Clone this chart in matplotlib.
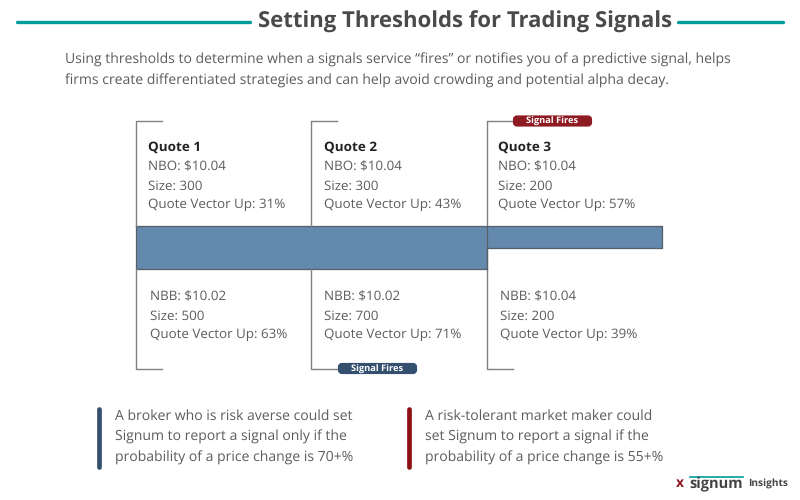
import matplotlib.pyplot as plt
from matplotlib.patches import FancyBboxPatch, Rectangle

plt.rcParams['font.family'] = ['Open Sans', 'DejaVu Sans']
plt.rcParams['text.hinting'] = 'none'

title = 'Setting Thresholds for Trading Signals'
intro = ['Using thresholds to determine when a signals service \u201cfires\u201d or notifies you of a predictive signal, helps',
         'firms create differentiated strategies and can help avoid crowding and potential alpha decay.']

quote_names = ['Quote 1', 'Quote 2', 'Quote 3']
nbo = ['$10.04', '$10.04', '$10.04']
offer_size = [300, 300, 200]
offer_up = [31, 43, 57]
nbb = ['$10.02', '$10.02', '$10.04']
bid_size = [500, 700, 200]
bid_up = [63, 71, 39]

# quote bars, read in pixels off the picture
bar_left = [136, 311, 487]
bar_right = [311, 487, 662]
bar_bottom = [269, 269, 248]

notes = [['A broker who is risk averse could set',
          'Signum to report a signal only if the',
          'probability of a price change is 70+%'],
         ['A risk-tolerant market maker could',
          'set Signum to report a signal if the',
          'probability of a price change is 55+%']]

TEAL = '#009c9c'
DARK = '#4a4a4a'
TEXT = '#5c5c5c'
BLUE = '#6389ad'
NAVY = '#34506e'
RED = '#8e1b22'
GREY = '#808080'

fig = plt.figure(figsize=(8, 5), dpi=100)
ax = fig.add_axes([0, 0, 1, 1])
ax.set_xlim(0, 800)
ax.set_ylim(500, 0)
ax.axis('off')

# header
ax.plot([17, 250], [22, 22], color=TEAL, lw=2.4, solid_capstyle='round')
ax.plot([678, 783], [22, 22], color=TEAL, lw=2.4, solid_capstyle='round')
ax.text(465, 21.5, title, ha='center', va='center', fontsize=15.9, fontweight='bold', color=DARK)
for i, line in enumerate(intro):
    ax.text(65, 59.5 + i * 21.5, line, va='center', fontsize=10.08, color=TEXT)

# bars
for l, r, b in zip(bar_left, bar_right, bar_bottom):
    ax.add_patch(Rectangle((l, 226), r - l, b - 226, facecolor=BLUE, edgecolor='none', zorder=2))
ax.plot([136, 662, 662, 487, 487, 136, 136], [226, 226, 248, 248, 269, 269, 226], color='#555f68', lw=0.9, zorder=3)

# quote brackets and labels
for i, x in enumerate(bar_left):
    ax.plot([x + 26, x, x], [121, 121, 226], color=GREY, lw=1, zorder=4)
    ax.plot([x, x, x + 26], [269, 369, 369], color=GREY, lw=1, zorder=4)
    tx = [148, 324.5, 498][i]
    ax.text(tx, 147.5, quote_names[i], va='center', fontsize=9.7, fontweight='bold', color='#222222')
    ax.text(tx, 167, f'NBO: {nbo[i]}', va='center', fontsize=9.65, color=TEXT)
    ax.text(tx, 186, f'Size: {offer_size[i]}', va='center', fontsize=9.65, color=TEXT)
    ax.text(tx, 205, f'Quote Vector Up: {offer_up[i]}%', va='center', fontsize=9.65, color=TEXT)
    bx = [149.5, 324.5, 499.5][i]
    ax.text(bx, 297, f'NBB: {nbb[i]}', va='center', fontsize=9.65, color=TEXT)
    ax.text(bx, 316, f'Size: {bid_size[i]}', va='center', fontsize=9.65, color=TEXT)
    ax.text(bx, 335, f'Quote Vector Up: {bid_up[i]}%', va='center', fontsize=9.65, color=TEXT)
# the third quote's line runs on through the bar
ax.plot([487, 487], [226, 269], color='#555f68', lw=0.9, zorder=4)


def badge(x, y, color):
    ax.add_patch(FancyBboxPatch((x + 2, y - 3.5), 75, 7, boxstyle='round,pad=0,rounding_size=2',
                                facecolor=color, edgecolor=color, lw=3, zorder=5))
    ax.text(x + 39.5, y + 0.8, 'Signal Fires', ha='center', va='center', fontsize=6.7,
            fontweight='bold', color='white', zorder=6)


badge(513, 121, RED)
badge(338, 368.5, NAVY)

# notes at the bottom
for x, lines, color in zip([99, 409], notes, [NAVY, '#8b1014']):
    ax.plot([x, x], [409, 467], color=color, lw=3.4, solid_capstyle='round')
    for i, line in enumerate(lines):
        ax.text(x + 16, 416 + i * 21, line, va='center', fontsize=10.05, color=TEXT)

# logo
ax.text(680, 483, 'x', ha='center', va='center', fontsize=10, fontweight='bold', color=RED)
ax.plot([690, 743], [477, 477], color=TEAL, lw=1.2)
ax.text(716.5, 484, 'signum', ha='center', va='center', fontsize=10.5, fontweight='bold', color='#444444')
ax.text(748, 484, 'Insights', va='center', fontsize=7.3, fontweight='bold', color='#444444')

fig.savefig('out.png', dpi=100)
